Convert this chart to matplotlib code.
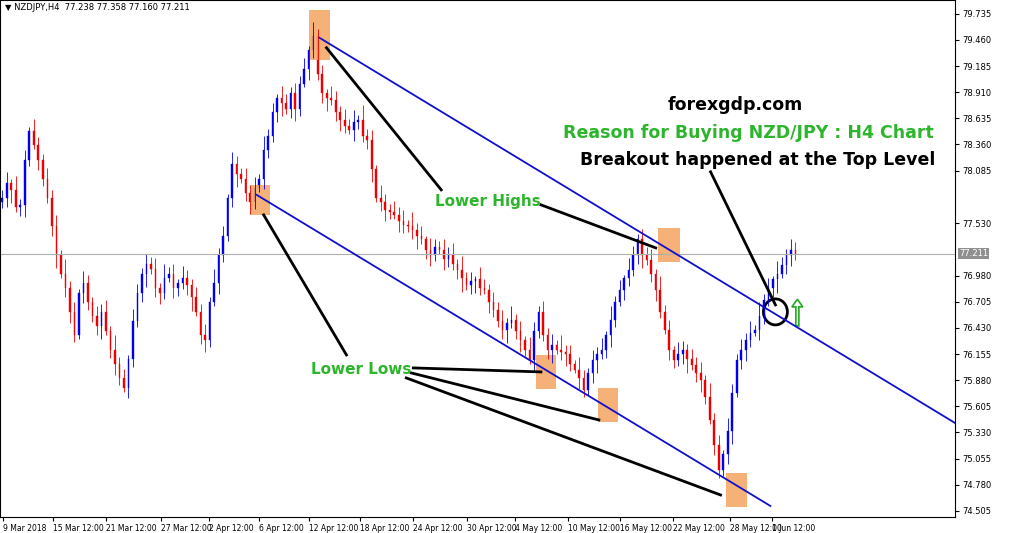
import numpy as np
import matplotlib.pyplot as plt
from matplotlib.patches import Rectangle, Ellipse, FancyArrow

# H4 closes (left to right)
closes = [77.80, 77.95, 77.88, 77.70, 77.72, 78.20, 78.50, 78.35, 78.20, 78.00,
          77.80, 77.50, 77.20, 77.00, 76.85, 76.60, 76.35, 76.80, 76.90, 76.70,
          76.55, 76.45, 76.60, 76.40, 76.20, 76.05, 75.90, 75.80, 76.10, 76.50,
          76.80, 77.00, 77.10, 77.05, 76.85, 76.80, 76.95, 77.00, 76.85, 76.90,
          76.95, 76.88, 76.75, 76.60, 76.35, 76.30, 76.70, 76.90, 77.20, 77.40,
          77.80, 78.15, 78.05, 78.00, 77.85, 77.75, 77.90, 78.00, 78.30, 78.45,
          78.70, 78.85, 78.80, 78.73, 78.90, 78.73, 79.00, 79.15, 79.35, 79.50,
          79.10, 78.90, 78.85, 78.83, 78.70, 78.62, 78.55, 78.51, 78.60, 78.62,
          78.45, 78.41, 78.10, 77.80, 77.75, 77.67, 77.65, 77.62, 77.55, 77.51,
          77.50, 77.46, 77.40, 77.36, 77.25, 77.20, 77.28, 77.25, 77.15, 77.20,
          77.10, 77.04, 76.95, 76.88, 76.92, 76.94, 76.85, 76.83, 76.70, 76.62,
          76.50, 76.41, 76.48, 76.51, 76.40, 76.30, 76.20, 76.09, 76.40, 76.60,
          76.35, 76.20, 76.25, 76.20, 76.18, 76.15, 76.05, 75.99, 75.90, 75.78,
          75.95, 76.09, 76.15, 76.20, 76.35, 76.51, 76.70, 76.83, 76.95, 77.04,
          77.20, 77.36, 77.20, 77.14, 77.00, 76.83, 76.60, 76.41, 76.20, 76.09,
          76.15, 76.20, 76.10, 76.04, 75.95, 75.88, 75.70, 75.46, 75.20, 74.93,
          75.10, 75.35, 75.75, 76.09, 76.20, 76.30, 76.38, 76.41, 76.55, 76.72,
          76.85, 76.94, 77.00, 77.09, 77.20, 77.25, 77.21]
wick_up = [0.08, 0.12, 0.05, 0.15, 0.07, 0.10, 0.04, 0.13, 0.09, 0.06, 0.11]
wick_dn = [0.06, 0.10, 0.14, 0.05, 0.09, 0.12, 0.07, 0.04, 0.11, 0.08]

date_px = [1, 51, 104, 159, 207, 257, 307, 359, 412, 466, 514, 567, 619, 672, 729, 772]
date_labels = ['9 Mar 2018', '15 Mar 12:00', '21 Mar 12:00', '27 Mar 12:00', '2 Apr 12:00',
               '6 Apr 12:00', '12 Apr 12:00', '18 Apr 12:00', '24 Apr 12:00', '30 Apr 12:00',
               '4 May 12:00', '10 May 12:00', '16 May 12:00', '22 May 12:00', '28 May 12:00',
               '1 Jun 12:00']
price_ticks = [79.735, 79.460, 79.185, 78.910, 78.635, 78.360, 78.085, 77.530, 76.980,
               76.705, 76.430, 76.155, 75.880, 75.605, 75.330, 75.055, 74.780, 74.505]
last_price = 77.211

n = len(closes)
step = 795 / (n - 1)  # pixels per candle


def pt(x, y):
    # reference pixel (from top-left) -> data coords
    return x / step, 79.735 - (y - 14) / 95


fig = plt.figure(figsize=(10.24, 5.33), dpi=100)
ax = fig.add_axes([0, 16 / 533, 955 / 1024, 517 / 533])
ax.set_xlim(-0.5, 955 / step)
ax.set_ylim(74.44, 79.88)

opens = [closes[0] - 0.05] + closes[:-1]
for i, (o, c) in enumerate(zip(opens, closes)):
    col = '#0000ee' if c >= o else '#ee0000'
    hi = max(o, c) + wick_up[i % len(wick_up)]
    lo = min(o, c) - wick_dn[i % len(wick_dn)]
    ax.vlines(i, lo, hi, color=col, lw=0.6)
    ax.add_patch(Rectangle((i - 0.18, min(o, c)), 0.36, max(abs(c - o), 0.01),
                           facecolor=col, edgecolor=col, lw=0.3))

ax.axhline(last_price, color='#b0b0b0', lw=0.8)

# trendlines
for (x1, y1), (x2, y2) in [((318, 38), (955, 423)), ((255, 195), (770, 506))]:
    a, b = pt(x1, y1), pt(x2, y2)
    ax.plot([a[0], b[0]], [a[1], b[1]], color='#1010cc', lw=1.3)

# orange boxes
for cx, cy, w, h in [(318, 35, 22, 50), (258, 200, 20, 30), (668, 245, 22, 34),
                     (545, 372, 20, 34), (607, 405, 20, 34), (736, 490, 22, 34)]:
    a = pt(cx - w / 2, cy + h / 2)
    b = pt(cx + w / 2, cy - h / 2)
    ax.add_patch(Rectangle(a, b[0] - a[0], b[1] - a[1], facecolor='#f4a460', alpha=0.85, lw=0))

# pointer lines
for (x1, y1), (x2, y2) in [((325, 48), (440, 190)), ((540, 205), (655, 248)),
                           ((345, 355), (262, 215)), ((412, 368), (540, 372)),
                           ((410, 373), (598, 420)), ((405, 378), (720, 495)),
                           ((710, 172), (775, 305))]:
    a, b = pt(x1, y1), pt(x2, y2)
    ax.plot([a[0], b[0]], [a[1], b[1]], color='black', lw=2)

c = pt(775, 312)
ax.add_patch(Ellipse(c, 24 / step, 26 / 95, fill=False, ec='black', lw=2))
a = pt(797, 326)
ax.add_patch(FancyArrow(a[0], a[1], 0, 0.2, width=3 / step, head_width=11 / step,
                        head_length=0.08, fc='white', ec='#22aa22', lw=1.2))

green = '#2db52d'
for txt, x, y, col in [('Lower Highs', 487, 202, green), ('Lower Lows', 360, 370, green),
                       ('forexgdp.com', 735, 105, 'black'),
                       ('Reason for Buying NZD/JPY : H4 Chart', 748, 133, green),
                       ('Breakout happened at the Top Level', 757, 160, 'black')]:
    ax.text(*pt(x, y), txt, color=col, fontsize=12.5 if y < 170 else 11,
            fontweight='bold', ha='center', va='center')

ax.text(0.005, 0.995, '▼ NZDJPY,H4  77.238 77.358 77.160 77.211', transform=ax.transAxes,
        fontsize=6, va='top')

ax.set_xticks([p / step for p in date_px])
ax.set_xticklabels(date_labels, fontsize=5.5, ha='left')
ax.yaxis.tick_right()
ax.set_yticks(price_ticks)
ax.set_yticklabels([f'{p:.3f}' for p in price_ticks], fontsize=6)
ax.tick_params(length=3, pad=2)
ax.text(1.004, last_price, f'{last_price:.3f}', transform=ax.get_yaxis_transform(),
        fontsize=6, va='center', color='white',
        bbox=dict(boxstyle='square,pad=0.15', fc='#909090', ec='none'))

fig.savefig('out.png', dpi=100)
